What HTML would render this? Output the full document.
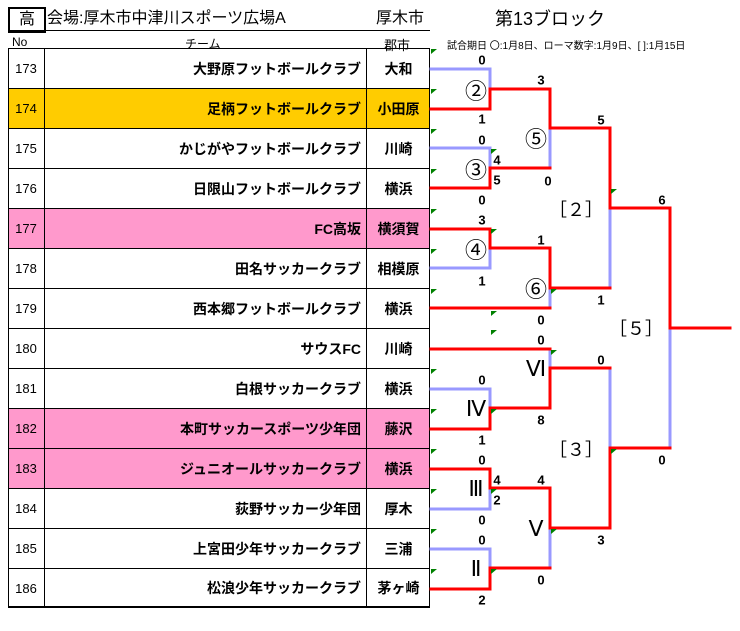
<!DOCTYPE html>
<html><head><meta charset="utf-8"><style>
body{margin:0;width:740px;height:631px;background:#fff;position:relative;overflow:hidden;font-family:"Liberation Sans","Noto Sans CJK JP",sans-serif;}
.a{position:absolute;white-space:nowrap;}
.row{position:absolute;left:8px;width:422px;height:40px;border-bottom:1.5px solid #000;box-sizing:border-box;}
.no{position:absolute;left:0;width:37px;top:0;height:40px;line-height:40px;text-align:center;font-size:13px;border-right:1.5px solid #000;box-sizing:border-box;}
.tm{position:absolute;left:37px;width:322px;top:0;height:40px;line-height:40px;text-align:right;font-size:14px;font-weight:bold;padding-right:5px;box-sizing:border-box;border-right:1.5px solid #000;}
.ct{position:absolute;left:359px;width:63px;top:0;height:40px;line-height:40px;text-align:center;font-size:14px;font-weight:bold;}
.s{position:absolute;font-size:13px;font-weight:bold;transform:translate(-50%,-50%);}
.l{position:absolute;font-size:22px;transform:translate(-50%,-50%);}
.b{position:absolute;font-size:18px;transform:translate(-50%,-50%);font-family:"Noto Sans CJK JP",sans-serif;}
.r{position:absolute;font-size:22px;transform:translate(-50%,-50%);font-family:"Liberation Serif",serif;}
</style></head><body>
<div class="a" style="left:8px;top:7px;width:34px;height:22px;border:2px solid #000;text-align:center;line-height:22px;font-size:16px;">高</div>
<div class="a" style="left:47px;top:8px;font-size:16px;line-height:22px;">会場:厚木市中津川スポーツ広場A</div>
<div class="a" style="left:376px;top:8px;font-size:16px;line-height:22px;">厚木市</div>
<div class="a" style="left:8px;top:30px;width:422px;border-top:1.5px solid #000;"></div>
<div class="a" style="left:495px;top:8px;font-size:18px;line-height:22px;">第13ブロック</div>
<div class="a" style="left:12px;top:35px;font-size:12px;">No</div>
<div class="a" style="left:185px;top:35px;font-size:12px;">チーム</div>
<div class="a" style="left:384px;top:35px;font-size:13px;">郡市</div>
<div class="a" style="left:447px;top:37px;font-size:10px;">試合期日 〇:1月8日、ローマ数字:1月9日、[ ]:1月15日</div>
<div class="row" style="top:49px"><div class="no">173</div><div class="tm">大野原フットボールクラブ</div><div class="ct">大和</div></div>
<div class="row" style="top:89px;background:#ffcc00"><div class="no">174</div><div class="tm">足柄フットボールクラブ</div><div class="ct">小田原</div></div>
<div class="row" style="top:129px"><div class="no">175</div><div class="tm">かじがやフットボールクラブ</div><div class="ct">川崎</div></div>
<div class="row" style="top:169px"><div class="no">176</div><div class="tm">日限山フットボールクラブ</div><div class="ct">横浜</div></div>
<div class="row" style="top:209px;background:#ff99cc"><div class="no">177</div><div class="tm">FC高坂</div><div class="ct">横須賀</div></div>
<div class="row" style="top:249px"><div class="no">178</div><div class="tm">田名サッカークラブ</div><div class="ct">相模原</div></div>
<div class="row" style="top:289px"><div class="no">179</div><div class="tm">西本郷フットボールクラブ</div><div class="ct">横浜</div></div>
<div class="row" style="top:329px"><div class="no">180</div><div class="tm">サウスFC</div><div class="ct">川崎</div></div>
<div class="row" style="top:369px"><div class="no">181</div><div class="tm">白根サッカークラブ</div><div class="ct">横浜</div></div>
<div class="row" style="top:409px;background:#ff99cc"><div class="no">182</div><div class="tm">本町サッカースポーツ少年団</div><div class="ct">藤沢</div></div>
<div class="row" style="top:449px;background:#ff99cc"><div class="no">183</div><div class="tm">ジュニオールサッカークラブ</div><div class="ct">横浜</div></div>
<div class="row" style="top:489px"><div class="no">184</div><div class="tm">荻野サッカー少年団</div><div class="ct">厚木</div></div>
<div class="row" style="top:529px"><div class="no">185</div><div class="tm">上宮田少年サッカークラブ</div><div class="ct">三浦</div></div>
<div class="row" style="top:569px;height:38px"><div class="no" style="height:38px">186</div><div class="tm" style="height:38px;line-height:38px">松浪少年サッカークラブ</div><div class="ct" style="line-height:38px">茅ヶ崎</div></div>
<div class="a" style="left:8px;top:48px;width:422px;height:560px;border:1.5px solid #000;box-sizing:border-box;"></div>

<svg class="a" style="left:0;top:0" width="740" height="631">
<g fill="none" stroke-width="3" stroke-linecap="square">
<g stroke="#9999ff">
<polyline points="431,69 490,69 490,89"/>
<polyline points="431,148 490,148 490,168"/>
<polyline points="490,248 490,268 431,268"/>
<polyline points="550,128 550,168"/>
<polyline points="550,288 550,308"/>
<polyline points="610,208 610,288"/>
<polyline points="670,328 670,448"/>
<polyline points="431,389 490,389 490,408"/>
<polyline points="550,349 550,368"/>
<polyline points="490,488 490,509 431,509"/>
<polyline points="431,549 490,549 490,568"/>
<polyline points="550,528 550,568"/>
<polyline points="610,368 610,448"/>
</g>
<g stroke="#ff0000">
<polyline points="431,109 490,109 490,89 550,89 550,128 610,128 610,208 670,208 670,328 730,328"/>
<polyline points="431,188 490,188 490,168 550,168"/>
<polyline points="431,229 490,229 490,248 550,248 550,288 610,288"/>
<polyline points="431,308 550,308"/>
<polyline points="431,349 550,349"/>
<polyline points="431,429 490,429 490,408 550,408 550,368 610,368"/>
<polyline points="431,469 490,469 490,488 550,488 550,528 610,528 610,448 670,448"/>
<polyline points="431,589 490,589 490,568 550,568"/>
</g>
</g>
<g fill="#008000">
<polygon points="431,49 437,49 431,54"/><polygon points="431,89 437,89 431,94"/><polygon points="431,129 437,129 431,134"/><polygon points="431,169 437,169 431,174"/><polygon points="431,209 437,209 431,214"/><polygon points="431,249 437,249 431,254"/><polygon points="431,289 437,289 431,294"/><polygon points="431,369 437,369 431,374"/><polygon points="431,409 437,409 431,414"/><polygon points="431,449 437,449 431,454"/><polygon points="431,489 437,489 431,494"/><polygon points="431,529 437,529 431,534"/><polygon points="431,569 437,569 431,574"/>
<polygon points="491,149 497,149 491,154"/><polygon points="491,229 497,229 491,234"/><polygon points="491,311 497,311 491,316"/><polygon points="491,330 497,330 491,335"/><polygon points="491,409 497,409 491,414"/><polygon points="491,489 497,489 491,494"/><polygon points="491,569 497,569 491,574"/>
<polygon points="551,289 557,289 551,294"/><polygon points="551,350 557,350 551,355"/><polygon points="551,529 557,529 551,534"/>
<polygon points="611,189 617,189 611,194"/><polygon points="611,449 617,449 611,454"/>
</g>
</svg>

<div class="s" style="left:482px;top:60px">0</div><div class="s" style="left:482px;top:119px">1</div>
<div class="s" style="left:541px;top:80px">3</div><div class="s" style="left:601px;top:120px">5</div>
<div class="s" style="left:482px;top:140px">0</div><div class="s" style="left:497px;top:160px">4</div><div class="s" style="left:497px;top:180px">5</div>
<div class="s" style="left:548px;top:181px">0</div><div class="s" style="left:482px;top:200px">0</div>
<div class="s" style="left:482px;top:220px">3</div><div class="s" style="left:541px;top:240px">1</div>
<div class="s" style="left:482px;top:281px">1</div><div class="s" style="left:601px;top:300px">1</div>
<div class="s" style="left:541px;top:320px">0</div><div class="s" style="left:541px;top:340px">0</div>
<div class="s" style="left:662px;top:200px">6</div><div class="s" style="left:601px;top:360px">0</div>
<div class="s" style="left:482px;top:380px">0</div><div class="s" style="left:541px;top:420px">8</div><div class="s" style="left:482px;top:440px">1</div>
<div class="s" style="left:482px;top:460px">0</div><div class="s" style="left:662px;top:460px">0</div>
<div class="s" style="left:497px;top:480px">4</div><div class="s" style="left:541px;top:480px">4</div><div class="s" style="left:497px;top:500px">2</div>
<div class="s" style="left:482px;top:520px">0</div><div class="s" style="left:482px;top:540px">0</div><div class="s" style="left:601px;top:540px">3</div>
<div class="s" style="left:541px;top:580px">0</div><div class="s" style="left:482px;top:600px">2</div>

<div class="l" style="left:476px;top:90px">②</div>
<div class="l" style="left:476px;top:169px">③</div>
<div class="l" style="left:476px;top:249px">④</div>
<div class="l" style="left:536px;top:138px">⑤</div>
<div class="l" style="left:536px;top:288px">⑥</div>
<div class="b" style="left:576px;top:209px">［２］</div>
<div class="b" style="left:636px;top:328px">［５］</div>
<div class="b" style="left:576px;top:449px">［３］</div>
<div class="r" style="left:536px;top:369px">Ⅵ</div>
<div class="r" style="left:476px;top:409px">Ⅳ</div>
<div class="r" style="left:476px;top:489px">Ⅲ</div>
<div class="r" style="left:536px;top:529px">Ⅴ</div>
<div class="r" style="left:476px;top:569px">Ⅱ</div>
</body></html>
